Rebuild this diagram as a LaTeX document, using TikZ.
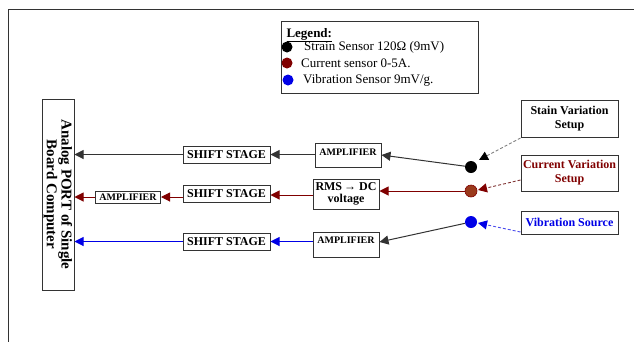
\documentclass[tikz,border=0pt]{standalone}
\usepackage{fontspec}
\setmainfont{Liberation Serif}
\usetikzlibrary{arrows.meta}
\definecolor{darkred}{HTML}{800000}
\definecolor{brownred}{HTML}{9A3A1C}
\definecolor{vibblue}{HTML}{0000E6}
\definecolor{framegray}{HTML}{333333}

\begin{document}
\begin{tikzpicture}[x=1pt,y=-1pt,
    every node/.style={font=\bfseries},
    blk/.style={draw=framegray,line width=1pt,inner sep=1pt},
    sig/.style={line width=1pt,-{Triangle[length=9pt,width=9pt]}},
    feed/.style={line width=0.9pt,dashed,dash pattern=on 3pt off 2pt},
    sensor/.style={circle,inner sep=0pt,minimum size=12pt}]
  \useasboundingbox (0,0) rectangle (634,341);
  % outer frame
  \draw[framegray,line width=1pt] (8,345) -- (8,9) -- (640,9);
  % legend
  \node[blk,minimum width=197pt,minimum height=72pt] (legend) at (379.5,57) {};
  \node[anchor=base west,font=\bfseries\fontsize{13}{15}\selectfont] (legtitle) at (283,37) {\underline{Legend:}};
  \node[sensor,fill=black,minimum size=11pt] (lg1) at (287,47) {};
  \node[sensor,fill=darkred,minimum size=11pt] (lg2) at (287,63) {};
  \node[sensor,fill=vibblue,minimum size=11pt] (lg3) at (288,80) {};
  \node[anchor=west,inner sep=0pt,font=\fontsize{13}{15}\selectfont] (lgt1) at (304,47) {Strain Sensor 120Ω (9mV)};
  \node[anchor=west,inner sep=0pt,font=\fontsize{13}{15}\selectfont] (lgt2) at (301,63) {Current sensor 0-5A.};
  \node[anchor=west,inner sep=0pt,font=\fontsize{13}{15}\selectfont] (lgt3) at (303,80) {Vibration Sensor 9mV/g.};
  % computer port
  \node[blk,rotate=-90,minimum width=191pt,minimum height=32pt,align=center,
        font=\bfseries\fontsize{15}{13.5}\selectfont] (port) at (58,194.5)
        {Analog PORT of Single\\Board Computer};
  % stages
  \node[blk,minimum width=87pt,minimum height=17pt,font=\bfseries\fontsize{12}{14}\selectfont] (shift1) at (226.5,154.5) {SHIFT STAGE};
  \node[blk,minimum width=87pt,minimum height=17pt,font=\bfseries\fontsize{12}{14}\selectfont] (shift2) at (226.5,193.5) {SHIFT STAGE};
  \node[blk,minimum width=87pt,minimum height=17pt,font=\bfseries\fontsize{12}{14}\selectfont] (shift3) at (226.5,241.5) {SHIFT STAGE};
  \node[blk,anchor=base,minimum width=66pt,inner ysep=3pt,text height=9.5pt,text depth=8.5pt,
        font=\bfseries\fontsize{10}{11}\selectfont] (amp1) at (348,155.5) {AMPLIFIER};
  \node[blk,minimum width=65pt,minimum height=12pt,font=\bfseries\fontsize{10}{11}\selectfont] (amp2) at (128,197) {AMPLIFIER};
  \node[blk,minimum width=66pt,minimum height=30pt,align=center,
        font=\bfseries\fontsize{12}{12}\selectfont] (rms) at (346,194) {RMS\,→ DC\\voltage};
  \node[blk,anchor=base,minimum width=66pt,inner ysep=3pt,text height=8.5pt,text depth=10.5pt,
        font=\bfseries\fontsize{10}{11}\selectfont] (amp3) at (346,243.5) {AMPLIFIER};
  % sensors
  \node[sensor,fill=black] (strain) at (471,167) {};
  \node[sensor,fill=brownred,draw=darkred,line width=0.6pt] (current) at (471,191) {};
  \node[sensor,fill=vibblue] (vib) at (471,222) {};
  % setups
  \node[blk,minimum width=97pt,minimum height=37pt,align=center,
        font=\bfseries\fontsize{12}{14}\selectfont] (stain) at (569.5,119) {Stain Variation\\Setup};
  \node[blk,minimum width=97pt,minimum height=36pt,align=center,text=darkred,
        font=\bfseries\fontsize{12}{14}\selectfont] (curset) at (569.5,173) {Current Variation\\Setup};
  \node[blk,minimum width=97pt,minimum height=23pt,text=vibblue,
        font=\bfseries\fontsize{12}{14}\selectfont] (vibset) at (569.5,222.5) {Vibration Source};
  % signal paths
  \draw[sig,framegray] (strain) -- (amp1.east |- 0,155);
  \draw[sig,framegray] (amp1.west |- shift1) -- (shift1.east);
  \draw[sig,framegray] (shift1.west) -- (port.north |- shift1);
  \draw[sig,darkred] (current) -- (rms.east |- current);
  \draw[sig,darkred] (rms.west |- 0,195) -- (shift2.east |- 0,195);
  \draw[sig,darkred] (shift2.west |- amp2) -- (amp2.east);
  \draw[sig,darkred] (amp2.west) -- (port.north |- amp2);
  \draw[sig,framegray] (vib) -- (amp3.east |- 0,242);
  \draw[sig,vibblue] (amp3.west |- shift3) -- (shift3.east);
  \draw[sig,vibblue] (shift3.west) -- (port.north |- shift3);
  % excitation
  \draw[feed,gray,-{Triangle[length=9pt,width=9pt,color=black,fill=black]}] (stain.south west) -- (479,160);
  \draw[feed,darkred!60!gray,-{Triangle[length=9pt,width=9pt,color=darkred,fill=darkred]}] (curset.west |- 0,180) -- (478,190);
  \draw[feed,vibblue!70,-{Triangle[length=9pt,width=9pt,color=vibblue,fill=vibblue]}] (vibset.west |- 0,232) -- (478,223);
\end{tikzpicture}
\end{document}
